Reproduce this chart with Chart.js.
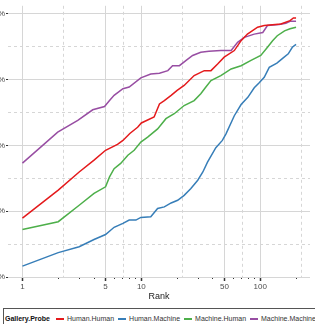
<!DOCTYPE html>
<html>
<head>
<meta charset="utf-8">
<script src="https://cdn.jsdelivr.net/npm/chart.js@4.4.1/dist/chart.umd.min.js"></script>
<style>
  html, body { margin: 0; padding: 0; background: #fff; overflow: hidden; }
  #wrap { position: absolute; left: 0; top: 0; width: 315px; height: 302px; }
  #legend {
    position: absolute; left: 3px; top: 308px; width: 340px; height: 30px;
    border: 1px solid #555; box-sizing: border-box; padding: 5px 0 0 1px;
    font-family: "Liberation Sans", Arial, sans-serif; font-size: 7px; color: #333;
    white-space: nowrap; line-height: 9px;
  }
  #legend b { color: #111; margin-right: 6px; }
  #legend span { margin-right: 4px; }
  #legend i { display: inline-block; width: 8px; height: 1.5px; vertical-align: middle; margin-right: 3px; }
</style>
</head>
<body>
<div id="wrap"><canvas id="chart"></canvas></div>
<div id="legend"></div>
<script>
// --- Data ---
const legendTitle = 'Gallery.Probe';
const seriesNames = ['Human.Human', 'Human.Machine', 'Machine.Human', 'Machine.Machine'];
const seriesColors = ['#E41A1C', '#377EB8', '#4DAF4A', '#984EA3'];

const hhRank = [1, 2, 3, 4, 5, 6.3, 7, 8, 9.3, 10, 12.8, 14.2, 15.6, 17.8, 20, 22.9, 27.8, 33.8, 38.5, 43.8, 49.7, 60.5, 69, 78, 95, 108, 149, 178, 190, 200];
const hhValue = [37.9, 46.4, 51.9, 55.5, 58.5, 60.3, 61.5, 63.6, 65.5, 66.8, 68.6, 72.6, 73.6, 75.2, 76.7, 78.2, 81.2, 82.7, 82.7, 84.7, 86.8, 88.8, 91.8, 93.8, 95.9, 96.4, 96.9, 97.9, 98.7, 98.7];

const hmRank = [1, 2, 3, 4, 5, 5.9, 7, 7.9, 9, 9.9, 12, 13.7, 15.6, 17.8, 20.2, 22.9, 26.1, 29.8, 32.9, 36, 42.3, 48, 51.5, 60.5, 69, 78.6, 89, 98, 108, 119, 138, 156, 172, 186, 200];
const hmValue = [23.3, 27.4, 29.2, 31.4, 32.9, 35.1, 36.3, 37.3, 37.3, 38.1, 38.3, 40.8, 41.3, 42.5, 43.3, 44.8, 46.9, 49.4, 51.9, 54.9, 59.3, 61.5, 63.5, 69.0, 72.4, 74.6, 77.5, 79.0, 80.7, 83.7, 85.0, 86.6, 87.8, 89.8, 90.7];

const mhRank = [1, 2, 3, 4, 5, 5.4, 5.9, 6.7, 7.7, 8.7, 9.9, 11.3, 13.7, 16.1, 18.9, 22.9, 27.8, 31.6, 34.5, 38.5, 46.6, 56.9, 69, 83.6, 101, 115, 127, 139, 160, 178, 200];
const mhValue = [34.4, 36.8, 41.8, 45.4, 47.4, 50.4, 52.9, 54.5, 57.0, 58.5, 61.0, 62.5, 65.0, 68.1, 69.6, 72.1, 73.6, 75.7, 77.5, 79.7, 81.2, 83.2, 84.2, 85.8, 87.3, 89.8, 91.8, 93.3, 94.8, 95.4, 95.9];

const mmRank = [1, 1.48, 1.98, 2.92, 3.9, 4.9, 5.4, 5.9, 7, 7.9, 9.9, 12, 14.2, 16.7, 18.3, 20.9, 23.8, 27, 31.6, 37, 46.6, 56.9, 64.5, 73.4, 89, 105, 115, 144, 164, 178, 200];
const mmValue = [54.6, 60.0, 64.0, 67.6, 70.8, 71.8, 73.6, 75.2, 77.2, 77.7, 80.5, 81.7, 81.9, 82.7, 84.2, 84.2, 85.8, 87.3, 88.3, 88.6, 88.8, 88.8, 91.3, 92.8, 93.8, 94.3, 96.4, 96.7, 97.1, 97.7, 97.7];

const xTickLabels = [1, 5, 10, 50, 100];
const xMidBreaks = [2.236, 7.071, 22.36, 70.71, 223.6];
const xLogTicks = [2, 3, 4, 6, 7, 8, 9, 20, 30, 40, 60, 70, 80, 90, 200];
const yTickLabels = [20, 40, 60, 80, 100];
const yMidBreaks = [30, 50, 70, 90];

// --- Chart ---
const GRID = '#d6d6d6';
const TICK = '#333';
const font8 = { family: '"Liberation Sans", Arial, sans-serif', size: 8 };

const ranks = [hhRank, hmRank, mhRank, mmRank];
const values = [hhValue, hmValue, mhValue, mmValue];

const datasets = seriesNames.map((name, s) => ({
  label: name,
  data: ranks[s].map((r, i) => ({ x: r, y: values[s][i] })),
  borderColor: seriesColors[s],
  backgroundColor: seriesColors[s],
  borderWidth: 1.5,
  pointRadius: 0,
  tension: 0,
  fill: false,
}));

const isIn = (arr, v) => arr.some(a => Math.abs(a - v) < 1e-6);

new Chart(document.getElementById('chart'), {
  type: 'line',
  data: { datasets },
  options: {
    responsive: true,
    maintainAspectRatio: false,
    animation: false,
    layout: { padding: { top: 5, right: 5, left: 0, bottom: 0 } },
    plugins: { legend: { display: false }, tooltip: { enabled: false } },
    scales: {
      x: {
        type: 'logarithmic',
        min: 0.756,
        max: 262,
        afterBuildTicks: (scale) => {
          const all = [...xTickLabels, ...xMidBreaks, ...xLogTicks].sort((a, b) => a - b);
          scale.ticks = all.map(v => ({ value: v }));
        },
        afterFit: (scale) => { scale.height = 25; },
        ticks: {
          autoSkip: false, maxRotation: 0, padding: 1,
          font: font8, color: '#4d4d4d',
          callback: (v) => isIn(xTickLabels, v) ? String(v) : '',
        },
        grid: {
          color: (c) => isIn(xLogTicks, c.tick.value) ? 'rgba(0,0,0,0)' : GRID,
          lineWidth: 1,
          tickLength: 4,
          tickColor: (c) => isIn(xMidBreaks, c.tick.value) ? 'rgba(0,0,0,0)' : TICK,
          tickWidth: (c) => isIn(xTickLabels, c.tick.value) ? 1.5 : 1,
          tickBorderDash: (c) => isIn(xLogTicks, c.tick.value) ? [2, 10] : [],
        },
        border: {
          display: false,
          dash: (c) => (c.tick && isIn(xMidBreaks, c.tick.value)) ? [3, 3] : [],
        },
        title: { display: true, text: 'Rank', font: { family: '"Liberation Sans", Arial, sans-serif', size: 9 }, color: '#222', padding: { top: 0, bottom: 0 } },
      },
      y: {
        type: 'linear',
        min: 20,
        max: 102.4,
        afterBuildTicks: (scale) => {
          scale.ticks = [...yTickLabels, ...yMidBreaks].sort((a, b) => a - b).map(v => ({ value: v }));
        },
        afterFit: (scale) => { scale.width = 8; },
        ticks: {
          padding: 1, font: font8, color: '#4d4d4d',
          callback: (v) => isIn(yTickLabels, v) ? v + '%' : '',
        },
        grid: {
          color: GRID,
          lineWidth: 1,
          tickLength: 2,
          tickColor: (c) => isIn(yMidBreaks, c.tick.value) ? 'rgba(0,0,0,0)' : TICK,
        },
        border: {
          display: false,
          dash: (c) => (c.tick && isIn(yMidBreaks, c.tick.value)) ? [3, 3] : [],
        },
      },
    },
  },
});

// legend (HTML, built from the series arrays)
const legend = document.getElementById('legend');
legend.innerHTML = '<b>' + legendTitle + '</b>' + seriesNames.map((n, i) =>
  '<span><i style="background:' + seriesColors[i] + '"></i>' + n + '</span>').join('');
</script>
</body>
</html>
